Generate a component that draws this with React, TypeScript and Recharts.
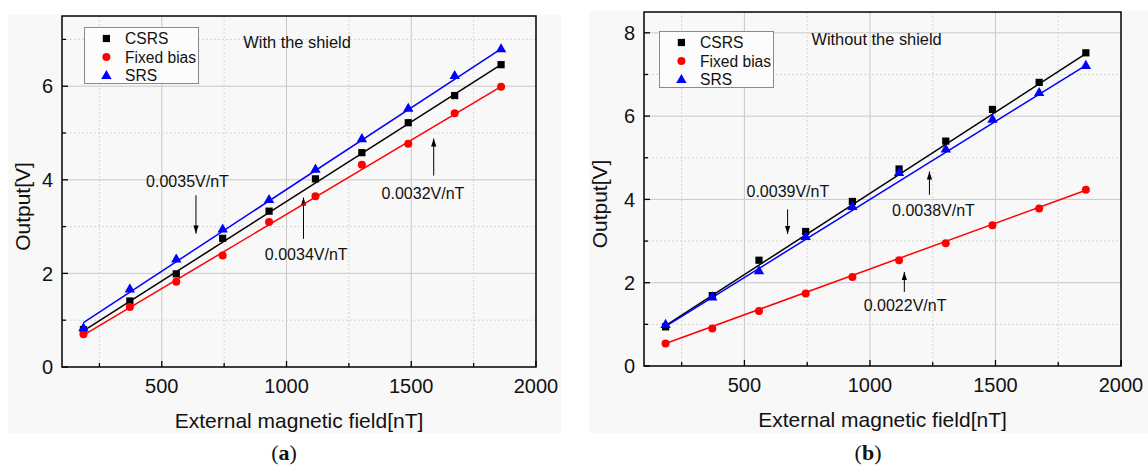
import React from 'react';
import {
  ScatterChart,
  Scatter,
  XAxis,
  YAxis,
  CartesianGrid,
  ReferenceLine,
  ReferenceDot,
  ReferenceArea,
  Legend,
} from 'recharts';

// ---------------- data ----------------
const fieldNT = [186, 372, 558, 744, 930, 1116, 1302, 1488, 1674, 1860];

// (a) with the shield
const shieldCSRS = [0.8, 1.41, 1.99, 2.75, 3.33, 4.02, 4.58, 5.22, 5.8, 6.46];
const shieldFixed = [0.7, 1.28, 1.82, 2.38, 3.1, 3.65, 4.32, 4.77, 5.42, 5.99];
const shieldSRS = [0.84, 1.67, 2.31, 2.95, 3.58, 4.23, 4.88, 5.53, 6.23, 6.8];

// (b) without the shield
const openCSRS = [0.94, 1.69, 2.54, 3.23, 3.95, 4.73, 5.4, 6.16, 6.81, 7.52];
const openFixed = [0.54, 0.9, 1.32, 1.74, 2.14, 2.54, 2.95, 3.38, 3.78, 4.23];
const openSRS = [1.0, 1.66, 2.29, 3.11, 3.83, 4.65, 5.21, 5.93, 6.57, 7.22];

// linear fit lines (values at first and last field point)
const fitField = [186, 1860];
const shieldFitCSRS = [0.77, 6.46];
const shieldFitFixed = [0.68, 5.99];
const shieldFitSRS = [0.95, 6.8];
const openFitCSRS = [0.97, 7.5];
const openFitFixed = [0.54, 4.22];
const openFitSRS = [0.95, 7.22];

const seriesNames = ['CSRS', 'Fixed bias', 'SRS'];

const xTicks = [250, 500, 750, 1000, 1250, 1500, 1750, 2000];
const shieldYTicks = [0, 1, 2, 3, 4, 5, 6, 7];
const openYTicks = [0, 1, 2, 3, 4, 5, 6, 7, 8];

const shieldNotes = [
  { x: 603, y: 3.97, text: '0.0035V/nT' },
  { x: 1079, y: 2.41, text: '0.0034V/nT' },
  { x: 1547, y: 3.72, text: '0.0032V/nT' },
];
const shieldArrows = [
  { x: 637, from: 3.67, to: 2.85 },
  { x: 1068, from: 2.74, to: 3.62 },
  { x: 1590, from: 4.09, to: 4.88 },
];
const openNotes = [
  { x: 673, y: 4.19, text: '0.0039V/nT' },
  { x: 1253, y: 3.75, text: '0.0038V/nT' },
  { x: 1140, y: 1.46, text: '0.0022V/nT' },
];
const openArrows = [
  { x: 672, from: 3.76, to: 3.17 },
  { x: 1237, from: 4.11, to: 4.67 },
  { x: 1137, from: 1.78, to: 2.26 },
];

// ---------------- styling ----------------
const FONT = '"Liberation Sans", Arial, Helvetica, sans-serif';
const COLORS = ['#000000', '#ff0000', '#0000ff'];
const SHAPES = ['square', 'circle', 'triangle'];
const BG = '#f8f8f8';

const toPts = (xs: number[], ys: number[]) => xs.map((x, i) => ({ x, y: ys[i] }));

const Marker = ({ kind, cx, cy, color }: any) => {
  if (cx == null || cy == null) return <g />;
  if (kind === 'square') return <rect x={cx - 3.6} y={cy - 3.6} width={7.2} height={7.2} fill={color} />;
  if (kind === 'circle') return <circle cx={cx} cy={cy} r={4} fill={color} />;
  return <path d={`M${cx},${cy - 5.5} L${cx + 5.2},${cy + 3.6} L${cx - 5.2},${cy + 3.6} Z`} fill={color} />;
};

const XTick = (props: any) => {
  const { x, y, payload } = props;
  const v = payload.value;
  const major = v % 500 === 0;
  return (
    <g>
      <line x1={x} x2={x} y1={y} y2={y - (major ? 6 : 4)} stroke="#000" strokeWidth={1.3} />
      {major && (
        <text x={x} y={y + 25.5} textAnchor="middle" fontSize={20} fill="#111" fontFamily={FONT}>
          {v}
        </text>
      )}
    </g>
  );
};

const YTick = (props: any) => {
  const { x, y, payload } = props;
  const v = payload.value;
  const major = v % 2 === 0;
  return (
    <g>
      <line x1={x} x2={x + (major ? 6 : 4)} y1={y} y2={y} stroke="#000" strokeWidth={1.3} />
      {major && (
        <text x={x - 9} y={y} dy="0.36em" textAnchor="end" fontSize={20} fill="#111" fontFamily={FONT}>
          {v}
        </text>
      )}
    </g>
  );
};

const LegendBox = ({ width, height }: any) => {
  const rows = [11.5, 30, 48.5];
  return (
    <div
      style={{
        position: 'relative',
        width,
        height,
        boxSizing: 'border-box',
        border: '1px solid #8a8a8a',
        background: '#fcfcfc',
      }}
    >
      <svg width={width} height={height} style={{ position: 'absolute', left: -1, top: -1 }}>
        {seriesNames.map((n, i) => (
          <g key={n}>
            <Marker kind={SHAPES[i]} cx={22.4} cy={rows[i]} color={COLORS[i]} />
            <text x={41} y={rows[i]} dy="0.36em" fontSize={15.6} fontFamily={FONT} fill="#111">
              {n}
            </text>
          </g>
        ))}
      </svg>
    </div>
  );
};

type PanelProps = {
  left: number;
  top: number;
  width: number;
  height: number;
  margin: { top: number; right: number; bottom: number; left: number };
  yAxisWidth: number;
  xAxisHeight: number;
  yMax: number;
  yTicks: number[];
  values: number[][];
  fits: number[][];
  notes: { x: number; y: number; text: string }[];
  arrows: { x: number; from: number; to: number }[];
  title: { x: number; y: number; text: string };
  legendPos: { left: number; top: number };
  yTitle: { dx: number; dy: number };
};

const Panel = (p: PanelProps) => {
  const solidY = p.yTicks.filter((v) => v % 2 === 0 && v !== 0);
  const dotY = p.yTicks.filter((v) => v % 2 === 1);
  return (
    <div style={{ position: 'absolute', left: p.left, top: p.top, width: p.width, height: p.height, background: BG }}>
      <ScatterChart width={p.width} height={p.height} margin={p.margin} style={{ overflow: 'visible' }}>
        <CartesianGrid
          horizontalValues={solidY}
          verticalValues={[500, 1000, 1500]}
          stroke="#c9c9c9"
          strokeWidth={1}
          fill="none"
        />
        <CartesianGrid
          horizontalValues={dotY}
          verticalValues={[250, 750, 1250, 1750]}
          stroke="#d6d6d6"
          strokeDasharray="2 2"
          strokeWidth={1}
          fill="none"
        />
        <XAxis
          type="number"
          dataKey="x"
          domain={[100, 2000]}
          ticks={xTicks}
          interval={0}
          tickSize={0}
          tickMargin={0}
          axisLine={false}
          tickLine={false}
          tick={<XTick />}
          height={p.xAxisHeight}
          allowDataOverflow
          label={{
            content: (lp: any) => {
              const vb = lp.viewBox || {};
              return (
                <text
                  x={vb.x + vb.width / 2}
                  y={vb.y + 61}
                  textAnchor="middle"
                  fontSize={21}
                  fill="#111"
                  fontFamily={FONT}
                >
                  External magnetic field[nT]
                </text>
              );
            },
          }}
        />
        <YAxis
          type="number"
          dataKey="y"
          domain={[0, p.yMax]}
          ticks={p.yTicks}
          interval={0}
          tickSize={0}
          tickMargin={0}
          axisLine={false}
          tickLine={false}
          tick={<YTick />}
          width={p.yAxisWidth}
          allowDataOverflow
          label={{
            content: (lp: any) => {
              const vb = lp.viewBox || {};
              const cx = vb.x + p.yTitle.dx;
              const cy = vb.y + vb.height / 2 + p.yTitle.dy;
              return (
                <text
                  x={cx}
                  y={cy}
                  dy="0.36em"
                  textAnchor="middle"
                  fontSize={21}
                  fill="#111"
                  fontFamily={FONT}
                  transform={`rotate(-90, ${cx}, ${cy})`}
                >
                  Output[V]
                </text>
              );
            },
          }}
        />
        <ReferenceArea x1={100} x2={2000} y1={0} y2={p.yMax} fill="none" stroke="#000" strokeWidth={1.5} fillOpacity={0} />

        {p.arrows.map((a, i) => (
          <ReferenceLine
            key={`as${i}`}
            segment={[
              { x: a.x, y: a.from },
              { x: a.x, y: a.to },
            ]}
            stroke="#000"
            strokeWidth={1}
          />
        ))}
        {p.arrows.map((a, i) => (
          <ReferenceDot
            key={`ah${i}`}
            x={a.x}
            y={a.to}
            r={0}
            shape={(sp: any) => {
              const { cx, cy } = sp;
              const d = a.to < a.from ? -1 : 1;
              const tipY = cy;
              const baseY = cy - (d === -1 ? 8 : -8);
              return <path d={`M${cx},${tipY} L${cx + 2.6},${baseY} L${cx - 2.6},${baseY} Z`} fill="#000" />;
            }}
          />
        ))}
        {p.notes.map((n, i) => (
          <ReferenceDot
            key={`n${i}`}
            x={n.x}
            y={n.y}
            r={0}
            shape={(sp: any) => (
              <text x={sp.cx} y={sp.cy} dy="0.36em" textAnchor="middle" fontSize={16} fill="#111" fontFamily={FONT}>
                {n.text}
              </text>
            )}
          />
        ))}
        <ReferenceDot
          x={p.title.x}
          y={p.title.y}
          r={0}
          shape={(sp: any) => (
            <text x={sp.cx} y={sp.cy} dy="0.36em" textAnchor="start" fontSize={16.4} fill="#111" fontFamily={FONT}>
              {p.title.text}
            </text>
          )}
        />

        {p.fits.map((f, i) => (
          <Scatter
            key={`f${i}`}
            data={toPts(fitField, f)}
            line={{ stroke: COLORS[i], strokeWidth: 1.5 }}
            shape={() => <g />}
            isAnimationActive={false}
            legendType="none"
          />
        ))}
        {p.values.map((vals, i) => (
          <Scatter
            key={`s${i}`}
            name={seriesNames[i]}
            data={toPts(fieldNT, vals)}
            fill={COLORS[i]}
            shape={(sp: any) => <Marker kind={SHAPES[i]} cx={sp.cx} cy={sp.cy} color={COLORS[i]} />}
            isAnimationActive={false}
          />
        ))}
        <Legend
          layout="horizontal"
          verticalAlign="middle"
          align="center"
          wrapperStyle={{ left: p.legendPos.left, top: p.legendPos.top, width: 115, height: 57, margin: 0, padding: 0 }}
          content={() => <LegendBox width={115} height={57} />}
        />
      </ScatterChart>
    </div>
  );
};

const Caption = ({ cx, letter }: { cx: number; letter: string }) => (
  <div
    style={{
      position: 'absolute',
      left: cx - 40,
      top: 440,
      width: 80,
      textAlign: 'center',
      fontFamily: '"Liberation Serif", "Times New Roman", serif',
      fontSize: 22,
      lineHeight: '26px',
      color: '#111',
    }}
  >
    (<b>{letter}</b>)
  </div>
);

export default function App() {
  return (
    <div style={{ position: 'absolute', left: 0, top: 0, width: 1148, height: 465, background: '#fff', overflow: 'hidden' }}>
      <Panel
        left={8}
        top={15}
        width={553}
        height={418}
        margin={{ top: 1, right: 25, bottom: 0, left: 0 }}
        yAxisWidth={54}
        xAxisHeight={66}
        yMax={7.5}
        yTicks={shieldYTicks}
        values={[shieldCSRS, shieldFixed, shieldSRS]}
        fits={[shieldFitCSRS, shieldFitFixed, shieldFitSRS]}
        notes={shieldNotes}
        arrows={shieldArrows}
        title={{ x: 827, y: 6.94, text: 'With the shield' }}
        legendPos={{ left: 76, top: 12 }}
        yTitle={{ dx: 14.5, dy: 15 }}
      />
      <Panel
        left={589}
        top={11}
        width={559}
        height={422}
        margin={{ top: 1, right: 27, bottom: 0, left: 0 }}
        yAxisWidth={55}
        xAxisHeight={67}
        yMax={8.5}
        yTicks={openYTicks}
        values={[openCSRS, openFixed, openSRS]}
        fits={[openFitCSRS, openFitFixed, openFitSRS]}
        notes={openNotes}
        arrows={openArrows}
        title={{ x: 767, y: 7.84, text: 'Without the shield' }}
        legendPos={{ left: 70, top: 20 }}
        yTitle={{ dx: 10, dy: 15 }}
      />
      <Caption cx={284} letter="a" />
      <Caption cx={868} letter="b" />
    </div>
  );
}
